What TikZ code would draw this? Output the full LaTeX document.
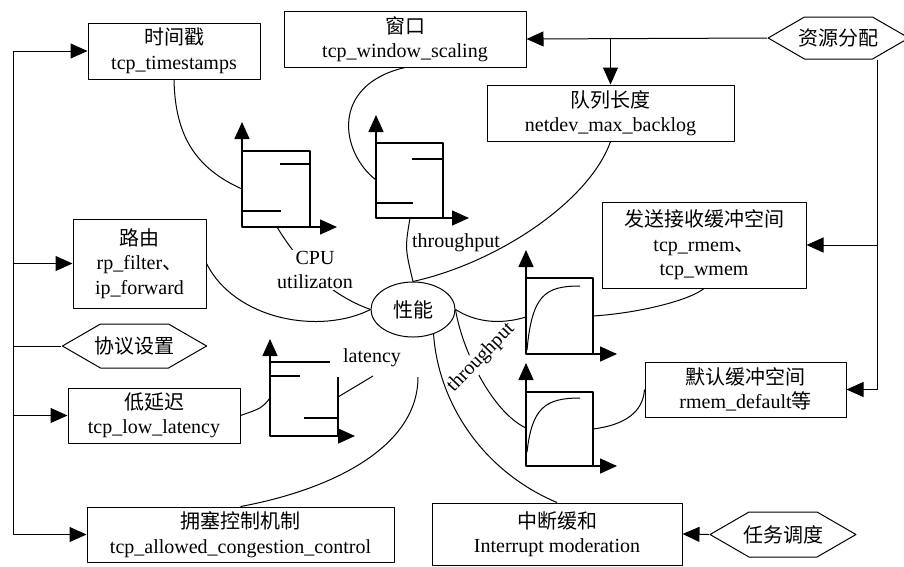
\documentclass[tikz,border=0pt]{standalone}
\usepackage{fontspec}
\setmainfont{Liberation Serif}
\newfontfamily\cjk{Noto Sans CJK SC}
\usetikzlibrary{arrows.meta,shapes.geometric,shapes.symbols}

\begin{document}
\begin{tikzpicture}[x=1pt,y=-1pt,line join=round,>={Triangle[length=17pt,width=15pt]},
	font=\fontsize{20}{24.5}\selectfont]
	\tikzset{box/.style={draw,line width=1pt,align=center,inner sep=0pt},
		hexa/.style={draw,line width=1pt,shape=signal,signal to=east and west,signal pointer angle=60,inner xsep=-6pt,inner ysep=0pt,minimum height=42pt},
		wire/.style={line width=1pt},
		axes/.style={line width=1.5pt},
		tag/.style={inner sep=1pt,align=center}}
	\useasboundingbox (0,0) rectangle (904,566);
	% parameter boxes
	\node[box,minimum width=172pt,minimum height=56pt] (ts) at (174,51) {{\cjk 时间戳}\\tcp\_timestamps};
	\node[box,minimum width=242pt,minimum height=56pt] (win) at (405,39) {{\cjk 窗口}\\tcp\_window\_scaling};
	\node[box,minimum width=247pt,minimum height=56pt] (queue) at (610.5,113) {{\cjk 队列长度}\\netdev\_max\_backlog};
	\node[box,minimum width=204pt,minimum height=86pt] (buf) at (704,245) {{\cjk 发送接收缓冲空间}\\tcp\_rmem{\cjk 、}\\tcp\_wmem};
	\node[box,minimum width=201pt,minimum height=55pt] (def) at (745.5,389.5) {{\cjk 默认缓冲空间}\\rmem\_default{\cjk 等}};
	\node[box,minimum width=250pt,minimum height=62pt] (irq) at (557,534) {{\cjk 中断缓和}\\Interrupt moderation};
	\node[box,minimum width=307pt,minimum height=55pt] (cong) at (240.5,534.5) {{\cjk 拥塞控制机制}\\tcp\_allowed\_congestion\_control};
	\node[box,minimum width=172pt,minimum height=55pt] (low) at (154,415.5) {{\cjk 低延迟}\\tcp\_low\_latency};
	\node[box,minimum width=133pt,minimum height=89pt] (route) at (139.5,263.5) {{\cjk 路由}\\rp\_filter{\cjk 、}\\ip\_forward};
	% hexagons
	\node[hexa] (res) at (838.5,38) {\cjk 资源分配};
	\node[hexa,minimum height=44pt] (proto) at (134.5,346) {\cjk 协议设置};
	\node[hexa,minimum height=45pt] (task) at (783,534.5) {\cjk 任务调度};
	\node[draw,line width=1pt,ellipse,minimum width=84pt,minimum height=55pt,inner sep=0pt] (perf) at (413,309.5) {\cjk 性能};
	% attach points on the charts
	\coordinate (cpuY) at (242,189);
	\coordinate (cpuX) at (277,227);
	\coordinate (thrY) at (376,180);
	\coordinate (thrX) at (410,218);
	\coordinate (latY) at (270,398);
	\coordinate (latR) at (338,397);
	\coordinate (latEnd) at (373,376);
	\coordinate (congEnd) at (418,377);
	\coordinate (bufY) at (526,317);
	\coordinate (bufR) at (593,316);
	\coordinate (defY) at (526,428);
	\coordinate (defR) at (593,429);
	\coordinate (spine) at (13,346);
	% charts
	\draw[axes,<->] (242,122) |- (337,227);
	\draw[axes] (242,151) -| (310,227) (280,164) -- (310,164) (242,211) -- (281,211);
	\draw[axes,<->] (376,115) |- (469,218);
	\draw[axes] (376,143) -| (443,218) (412,159) -- (443,159) (376,203) -- (413,203);
	\draw[axes,<->] (270,339) |- (355,436);
	\draw[axes] (270,362) -- (330,362) (338,377) -- (338,436) (270,376) -- (300,376) (304,418) -- (338,418);
	\draw[axes,<->] (526,250) |- (617,354);
	\draw[axes] (526,278) -| (593,354);
	\draw[wire] (527,350) .. controls (532,295) and (545,286) .. (580,286);
	\draw[axes,<->] (526,363) |- (617,466);
	\draw[axes] (526,392) -| (593,466);
	\draw[wire] (527,452) .. controls (532,408) and (545,398) .. (580,398);
	% left branch
	\draw[wire] (proto.west) -- (spine);
	\draw[wire,->] (spine) |- (ts.west);
	\draw[wire,->] (spine) |- (route.west);
	\draw[wire,->] (spine) |- (low.west);
	\draw[wire,->] (spine) |- (cong.west);
	% right branch
	\draw[wire,->] (res.west) -- (win.east);
	\draw[wire,->] (queue.north |- res.west) -- (queue.north);
	\draw[wire,->] ([xshift=39pt]res.south) |- (buf.east);
	\draw[wire,->] ([xshift=39pt]res.south) |- (def.east);
	\draw[wire,->] (task.west) -- (irq.east);
	% curves
	\draw[wire] (ts.south) .. controls (175,135) and (195,168) .. (cpuY);
	\draw[wire] (cpuX) .. controls (300,265) and (330,295) .. (perf.west);
	\node[tag,fill=white] (cpu) at (315,270) {CPU\\utilizaton};
	\draw[wire] (win.south) .. controls (330,85) and (340,152) .. (thrY);
	\draw[wire] (thrX) .. controls (405,248) .. (perf.north);
	\draw[wire] (queue.south) .. controls (590,200) and (500,262) .. (perf.north);
	\node[tag] (thr) at (456,243) {throughput};
	\draw[wire] (route.east) .. controls (235,320) and (320,335) .. (perf.west);
	\draw[wire] (perf.east) .. controls (462,350) and (492,412) .. (defY);
	\node[tag,fill=white,rotate=46] (thr2) at (481,358) {throughput};
	\draw[wire] (perf.east) .. controls (475,322) and (500,325) .. (bufY);
	\draw[wire] (bufR) .. controls (640,313) and (690,300) .. (buf.south);
	\draw[wire] (def.west) .. controls (643,412) and (625,425) .. (defR);
	\draw[wire] (perf.-50) .. controls (438,400) and (480,470) .. (irq.north);
	\draw[wire] (cong.north) .. controls (330,490) and (418,448) .. (congEnd);
	\draw[wire] (low.east) .. controls (262,408) .. (latY);
	\draw[wire] (latR) -- (latEnd);
	\node[tag] (lat) at (372,358) {latency};
\end{tikzpicture}
\end{document}
